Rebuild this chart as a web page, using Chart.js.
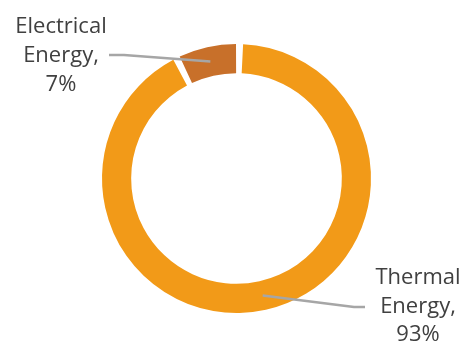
<!DOCTYPE html>
<html>
<head>
<meta charset="utf-8">
<script src="https://cdn.jsdelivr.net/npm/chart.js@4.4.0/dist/chart.umd.min.js"></script>
<style>
  html, body { margin: 0; padding: 0; background: #fff; }
  #wrap { width: 462px; height: 342px; }
</style>
</head>
<body>
<div id="wrap"><canvas id="energyChart" width="462" height="342"></canvas></div>
<script>
// Energy split
const categories = ['Thermal Energy', 'Electrical Energy'];
const shares = [93, 7];
const sliceColors = ['#F29A18', '#C8702A'];

// label text blocks, lines per slice
const labelLines = [
  ['Thermal', 'Energy,', shares[0] + '%'],
  ['Electrical', 'Energy,', shares[1] + '%']
];

// Leader lines + multi-line labels next to the ring
const calloutPlugin = {
  id: 'callouts',
  afterDatasetsDraw(chart) {
    const ctx = chart.ctx;
    const arcs = chart.getDatasetMeta(0).data;
    const thermal = arcs[0].tooltipPosition();
    const electrical = arcs[1].tooltipPosition();

    ctx.save();
    ctx.strokeStyle = '#A6A6A6';
    ctx.lineWidth = 2.5;
    ctx.lineJoin = 'round';

    // Thermal: down-right then short horizontal
    ctx.beginPath();
    ctx.moveTo(thermal.x, thermal.y);
    ctx.lineTo(354, 307);
    ctx.lineTo(365, 307);
    ctx.stroke();

    // Electrical: up-left then horizontal
    ctx.beginPath();
    ctx.moveTo(electrical.x, electrical.y);
    ctx.lineTo(124, 55);
    ctx.lineTo(109, 55);
    ctx.stroke();

    ctx.fillStyle = '#404040';
    ctx.font = '22px "Open Sans", "Noto Sans", sans-serif';
    ctx.textAlign = 'center';
    ctx.textBaseline = 'alphabetic';
    labelLines[1].forEach((t, i) => ctx.fillText(t, 61, 33 + i * 29));
    labelLines[0].forEach((t, i) => ctx.fillText(t, 418, 284 + i * 28.5));
    ctx.restore();
  }
};

new Chart(document.getElementById('energyChart'), {
  type: 'doughnut',
  data: {
    labels: categories,
    datasets: [{
      data: shares,
      backgroundColor: sliceColors,
      borderWidth: 0,
      spacing: 4
    }]
  },
  options: {
    responsive: false,
    animation: false,
    cutout: '78%',
    layout: { padding: { top: 44, bottom: 29, left: 11, right: 0 } },
    plugins: {
      legend: { display: false },
      tooltip: { enabled: false }
    }
  },
  plugins: [calloutPlugin]
});
</script>
</body>
</html>
